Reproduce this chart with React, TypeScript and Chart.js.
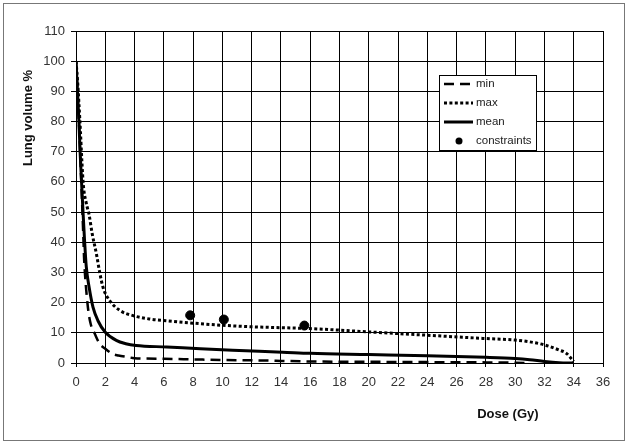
import React, { useEffect, useRef } from 'react';
import { Chart, registerables } from 'chart.js';

Chart.register(...registerables);

// ---- data ----
const minDose = [0, 0.1, 0.2, 0.28, 0.36, 0.44, 0.5, 0.55, 0.62, 0.72, 0.85, 1.0, 1.3, 1.6, 2.0, 2.5, 2.9, 3.5, 4, 6, 8, 10, 12, 14, 16, 20, 24, 28, 30, 31];
const minVolume = [100, 90, 80, 70, 60, 50, 42, 35, 29, 23, 17, 13, 9.5, 6.5, 4.7, 3, 2.5, 2, 1.6, 1.4, 1.2, 1.0, 0.9, 0.7, 0.5, 0.4, 0.3, 0.2, 0.1, 0];

const maxDose = [0, 0.1, 0.2, 0.3, 0.4, 0.5, 0.7, 0.9, 1.1, 1.4, 1.6, 1.85, 2.3, 3, 3.9, 5, 6.2, 8, 10, 12, 14, 16, 20, 24, 28, 30, 31, 32, 33, 33.5, 34];
const maxVolume = [100, 94, 86, 77, 67, 59, 53, 49, 43, 36, 30.5, 25, 20.7, 17.4, 15.7, 14.6, 14, 13.2, 12.5, 12, 11.7, 11.4, 10.3, 9.2, 8.1, 7.6, 7, 6, 4.3, 3.2, 0.5];

const meanDose = [0, 0.1, 0.2, 0.28, 0.38, 0.48, 0.58, 0.7, 0.9, 1.16, 1.5, 2, 2.75, 3.4, 4.1, 6.2, 8.5, 10.7, 14.1, 16, 20, 24, 28, 30, 31, 32, 33, 34];
const meanVolume = [100, 90, 80, 70, 60, 50, 41, 32, 25, 18.5, 14, 10.2, 7.5, 6.4, 5.8, 5.3, 4.7, 4.2, 3.6, 3.2, 2.8, 2.4, 1.9, 1.5, 1.1, 0.5, 0.1, 0];

const constraintDose = [7.8, 10.1, 15.6];
const constraintVolume = [15.8, 14.4, 12.4];

const seriesNames = ['min', 'max', 'mean', 'constraints'];
const xTitle = 'Dose (Gy)';
const yTitle = 'Lung volume %';

const toPoints = (xs: number[], ys: number[]) => xs.map((x, i) => ({ x, y: ys[i] }));

const tickFont = { family: '"Liberation Sans", Arial, sans-serif', size: 13 };
const tickColor = '#333';

const titlesPlugin = {
  id: 'customTitles',
  afterDraw(chart: any) {
    const ctx = chart.ctx;
    const xs = chart.scales.x;
    ctx.save();
    ctx.fillStyle = '#111';
    ctx.font = 'bold 13px "Liberation Sans", Arial, sans-serif';
    ctx.textAlign = 'center';
    ctx.textBaseline = 'middle';
    // x title, placed near the right side under the axis
    ctx.fillText(xTitle, xs.getPixelForValue(29.5), 414);
    // y title, rotated
    ctx.translate(28, 118);
    ctx.rotate(-Math.PI / 2);
    ctx.fillText(yTitle, 0, 0);
    ctx.restore();
  },
};

const legendPlugin = {
  id: 'boxLegend',
  afterDraw(chart: any) {
    const ctx = chart.ctx;
    const bx = 439.5, by = 75.5, bw = 97, bh = 75;
    ctx.save();
    ctx.fillStyle = '#fff';
    ctx.fillRect(bx, by, bw, bh);
    ctx.strokeStyle = '#000';
    ctx.lineWidth = 1;
    ctx.strokeRect(bx, by, bw, bh);
    const rows = [84, 103, 122, 141];
    const ds = chart.data.datasets;
    ds.forEach((d: any, i: number) => {
      const y = rows[i];
      if (i < 3) {
        ctx.beginPath();
        ctx.strokeStyle = d.borderColor;
        ctx.lineWidth = d.borderWidth;
        ctx.setLineDash(d.borderDash || []);
        ctx.moveTo(444, y);
        ctx.lineTo(473, y);
        ctx.stroke();
        ctx.setLineDash([]);
      } else {
        ctx.beginPath();
        ctx.fillStyle = d.backgroundColor;
        ctx.arc(459, y, 3.5, 0, Math.PI * 2);
        ctx.fill();
      }
      ctx.fillStyle = '#222';
      ctx.font = '11.5px "Liberation Sans", Arial, sans-serif';
      ctx.textAlign = 'left';
      ctx.textBaseline = 'middle';
      ctx.fillText(d.label, 476, y);
    });
    ctx.restore();
  },
};

const bgPlugin = {
  id: 'bg',
  beforeDraw(chart: any) {
    const ctx = chart.ctx;
    ctx.save();
    ctx.fillStyle = '#fff';
    ctx.fillRect(0, 0, chart.width, chart.height);
    ctx.restore();
  },
};

export default function App() {
  const ref = useRef<HTMLCanvasElement | null>(null);

  useEffect(() => {
    document.body.style.margin = '0';
    if (!ref.current) return;
    const chart = new Chart(ref.current, {
      type: 'line',
      data: {
        datasets: [
          {
            label: seriesNames[0],
            data: toPoints(minDose, minVolume),
            borderColor: '#000',
            backgroundColor: '#000',
            borderWidth: 2.5,
            borderDash: [10, 6],
            pointRadius: 0,
            cubicInterpolationMode: 'monotone',
            fill: false,
          },
          {
            label: seriesNames[1],
            data: toPoints(maxDose, maxVolume),
            borderColor: '#000',
            backgroundColor: '#000',
            borderWidth: 3,
            borderDash: [3, 2.4],
            pointRadius: 0,
            cubicInterpolationMode: 'monotone',
            fill: false,
          },
          {
            label: seriesNames[2],
            data: toPoints(meanDose, meanVolume),
            borderColor: '#000',
            backgroundColor: '#000',
            borderWidth: 3,
            pointRadius: 0,
            cubicInterpolationMode: 'monotone',
            fill: false,
          },
          {
            label: seriesNames[3],
            data: toPoints(constraintDose, constraintVolume),
            borderColor: '#000',
            backgroundColor: '#000',
            showLine: false,
            pointRadius: 4.5,
            pointStyle: 'circle',
          },
        ],
      } as any,
      options: {
        animation: false,
        responsive: false,
        maintainAspectRatio: false,
        layout: { padding: { top: 31, right: 25, left: 0, bottom: 0 } },
        plugins: {
          legend: { display: false },
          tooltip: { enabled: false },
        },
        scales: {
          x: {
            type: 'linear',
            min: 0,
            max: 36,
            ticks: { stepSize: 2, font: tickFont, color: tickColor, padding: 8, maxRotation: 0 },
            grid: { color: '#000', lineWidth: 1, tickLength: 4, tickColor: '#000' },
            border: { color: '#000', width: 1 },
            afterFit: (s: any) => {
              s.height = 82;
            },
          },
          y: {
            type: 'linear',
            min: 0,
            max: 110,
            ticks: { stepSize: 10, font: tickFont, color: tickColor, padding: 6 },
            grid: { color: '#000', lineWidth: 1, tickLength: 5, tickColor: '#000' },
            border: { color: '#000', width: 1 },
            afterFit: (s: any) => {
              s.width = 76;
            },
          },
        },
      } as any,
      plugins: [bgPlugin, titlesPlugin, legendPlugin],
    });
    return () => chart.destroy();
  }, []);

  return (
    <div style={{ position: 'relative', width: 628, height: 445, background: '#fff' }}>
      <canvas ref={ref} width={628} height={445} style={{ position: 'absolute', left: 0, top: 0, width: 628, height: 445 }} />
      <div
        style={{
          position: 'absolute',
          left: 3,
          top: 3,
          width: 620,
          height: 436,
          border: '1px solid #777',
          pointerEvents: 'none',
        }}
      />
    </div>
  );
}
